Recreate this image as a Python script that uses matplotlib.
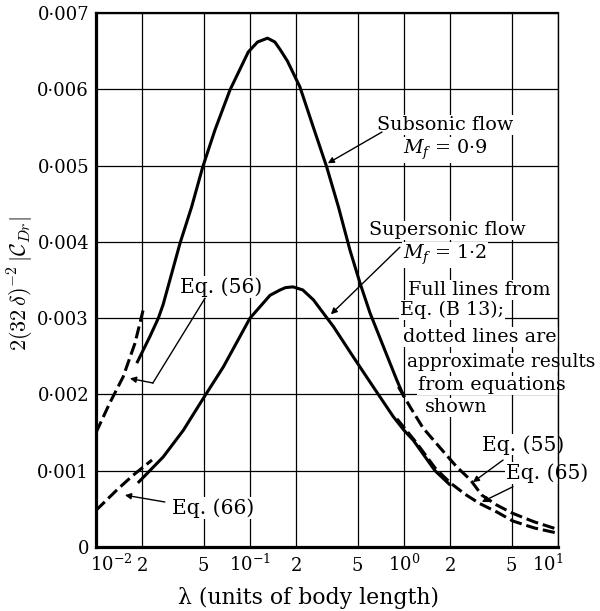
import matplotlib
matplotlib.use("Agg")
import matplotlib.pyplot as plt
from matplotlib.ticker import NullLocator
import matplotlib.transforms as mtransforms

plt.rcParams['font.family'] = ['DejaVu Serif']
plt.rcParams['mathtext.fontset'] = 'dejavuserif'

# ---------------- data ----------------
sub_x = [0.0184, 0.0224, 0.0254, 0.0273, 0.0351, 0.0418, 0.0493, 0.0593, 0.0741, 0.0975,
         0.112, 0.13, 0.145, 0.157, 0.175, 0.211, 0.258, 0.315, 0.375, 0.446, 0.518,
         0.601, 0.734, 0.897, 1.0]
sub_y = [0.00241, 0.00276, 0.0030, 0.00318, 0.00398, 0.00446, 0.00498, 0.00547, 0.00599,
         0.00649, 0.00662, 0.00667, 0.00662, 0.00652, 0.00637, 0.00603, 0.00550, 0.00498,
         0.00446, 0.00389, 0.00346, 0.00307, 0.00263, 0.00219, 0.00197]

sup_x = [0.0187, 0.0273, 0.0369, 0.0498, 0.0671, 0.0861, 0.1, 0.135, 0.157, 0.17, 0.19,
         0.22, 0.258, 0.348, 0.469, 0.631, 0.851, 1.0, 1.148, 1.59, 2.0]
sup_y = [0.00084, 0.00118, 0.00153, 0.00195, 0.00236, 0.00276, 0.0030, 0.0033, 0.00337,
         0.0034, 0.00341, 0.00337, 0.00324, 0.00289, 0.00249, 0.0021, 0.00171, 0.00153,
         0.0014, 0.0010, 0.00081]

eq56_x = [0.01, 0.0123, 0.015, 0.0179, 0.0202]
eq56_y = [0.0015, 0.00189, 0.00223, 0.00267, 0.0031]

eq66_x = [0.01, 0.0137, 0.0174, 0.0231]
eq66_y = [0.00048, 0.00075, 0.00094, 0.00114]

eq55_x = [0.92, 1.1, 1.33, 1.7, 2.2, 2.7, 3.2, 4.0, 5.1, 7.0, 10.0]
eq55_y = [0.0021, 0.00183, 0.00156, 0.00131, 0.00105, 0.00088, 0.00068, 0.00055,
          0.00044, 0.00033, 0.00023]

eq65_x = [0.9, 1.2, 1.6, 2.0, 2.5, 3.1, 4.0, 5.1, 7.0, 10.0]
eq65_y = [0.00168, 0.00137, 0.00103, 0.00084, 0.00069, 0.00057, 0.00046, 0.00034,
          0.00025, 0.00018]

x_ticks = [0.01, 0.02, 0.05, 0.1, 0.2, 0.5, 1, 2, 5, 10]
x_ticklabels = ['$10^{-2}$', '2', '5', '$10^{-1}$', '2', '5', '$10^{0}$', '2', '5', '$10^{1}$']
y_ticks = [0, 0.001, 0.002, 0.003, 0.004, 0.005, 0.006, 0.007]
y_ticklabels = ['0', '0\u00b7001', '0\u00b7002', '0\u00b7003', '0\u00b7004', '0\u00b7005',
                '0\u00b7006', '0\u00b7007']

# ---------------- figure ----------------
fig = plt.figure(figsize=(6.0, 6.11), dpi=100)
ax = fig.add_axes([96/600, 1 - 547/611, 462/600, 534/611])
ax.set_xscale('log')
ax.set_xlim(0.01, 10)
ax.set_ylim(0, 0.007)

ax.set_xticks(x_ticks)
ax.set_xticklabels(x_ticklabels)
ax.xaxis.set_minor_locator(NullLocator())
ax.set_yticks(y_ticks)
ax.set_yticklabels(y_ticklabels)

ax.grid(True, color='black', lw=0.9)
ax.set_axisbelow(True)
ax.tick_params(axis='both', length=0, labelsize=13)
ax.tick_params(axis='y', pad=5)
ax.tick_params(axis='x', pad=17)
for lab in ax.get_xticklabels():
    lab.set_va('baseline')
xl = ax.get_xticklabels()
xl[0].set_ha('left')
xl[0].set_transform(xl[0].get_transform() + mtransforms.ScaledTranslation(-6/100, 0, fig.dpi_scale_trans))
xl[-1].set_ha('right')
xl[-1].set_transform(xl[-1].get_transform() + mtransforms.ScaledTranslation(5/100, 0, fig.dpi_scale_trans))

for side, w in (('left', 2.3), ('bottom', 2.3), ('top', 1.6), ('right', 1.0)):
    ax.spines[side].set_linewidth(w)
    ax.spines[side].set_color('black')

lw = 2.2
ax.plot(sub_x, sub_y, color='black', lw=lw, zorder=3, solid_capstyle='butt', solid_joinstyle='round')
ax.plot(sup_x, sup_y, color='black', lw=lw, zorder=3, solid_capstyle='butt', solid_joinstyle='round')
for xs, ys in ((eq56_x, eq56_y), (eq66_x, eq66_y), (eq55_x, eq55_y), (eq65_x, eq65_y)):
    ax.plot(xs, ys, color='black', lw=lw, dashes=(4, 1.6), zorder=3, dash_capstyle='butt')

# ---------------- labels ----------------
ax.set_ylabel(r'$2(32\,\delta)^{-2}\,|\mathcal{C}_{Dr}|$', fontsize=16, math_fontfamily='cm')
ax.yaxis.set_label_coords(-0.13, 0.494)
ax.set_xlabel('\u03bb (units of body length)', fontsize=15.8)
ax.xaxis.set_label_coords(0.459, -0.074)

tkw = dict(color='black', zorder=2.5,
           bbox=dict(facecolor='white', edgecolor='none', pad=0.6))
akw = dict(arrowstyle='-|>', color='black', lw=1.0, mutation_scale=9,
           shrinkA=0, shrinkB=0)
fs_txt = 13.8
fs_eq = 14.6

ax.text(1.85, 0.00553, 'Subsonic flow', ha='center', va='center', fontsize=fs_txt, **tkw)
ax.text(1.85, 0.00520, '$M_f$ = 0\u00b79', ha='center', va='center', fontsize=fs_txt, **tkw)
ax.annotate('', xy=(0.32, 0.00503), xytext=(0.72, 0.00544), arrowprops=akw)

ax.text(1.9, 0.00415, 'Supersonic flow', ha='center', va='center', fontsize=fs_txt, **tkw)
ax.text(1.85, 0.00383, '$M_f$ = 1\u00b72', ha='center', va='center', fontsize=fs_txt, **tkw)
ax.annotate('', xy=(0.335, 0.00305), xytext=(0.94, 0.00393), arrowprops=akw)

ax.text(1.06, 0.00337, 'Full lines from', ha='left', va='center', fontsize=fs_txt, **tkw)
ax.text(0.94, 0.00311, 'Eq. (B 13);', ha='left', va='center', fontsize=fs_txt, **tkw)
ax.text(0.99, 0.00275, 'dotted lines are', ha='left', va='center', fontsize=fs_txt, **tkw)
ax.text(1.04, 0.00242, 'approximate results', ha='left', va='center', fontsize=13.4,
        clip_on=False, **tkw)
ax.text(1.23, 0.00212, 'from equations', ha='left', va='center', fontsize=fs_txt, **tkw)
ax.text(1.37, 0.00183, 'shown', ha='left', va='center', fontsize=fs_txt, **tkw)

ax.text(0.065, 0.00341, 'Eq. (56)', ha='center', va='center', fontsize=fs_eq, **tkw)
ax.plot([0.051, 0.0234], [0.00326, 0.00215], color='black', lw=1.0, zorder=2.6)
ax.annotate('', xy=(0.0166, 0.00221), xytext=(0.0234, 0.00215), arrowprops=akw)

ax.text(0.0575, 0.00051, 'Eq. (66)', ha='center', va='center', fontsize=fs_eq, **tkw)
ax.annotate('', xy=(0.0154, 0.00068), xytext=(0.028, 0.00059), arrowprops=akw)

ax.text(5.93, 0.00134, 'Eq. (55)', ha='center', va='center', fontsize=fs_eq, **tkw)
ax.annotate('', xy=(2.8, 0.00085), xytext=(4.4, 0.00114), arrowprops=akw)

ax.text(8.5, 0.00097, 'Eq. (65)', ha='center', va='center', fontsize=fs_eq, clip_on=False, **tkw)
ax.annotate('', xy=(3.2, 0.00059), xytext=(5.1, 0.00079), arrowprops=akw)

fig.savefig('out.png', dpi=100)
